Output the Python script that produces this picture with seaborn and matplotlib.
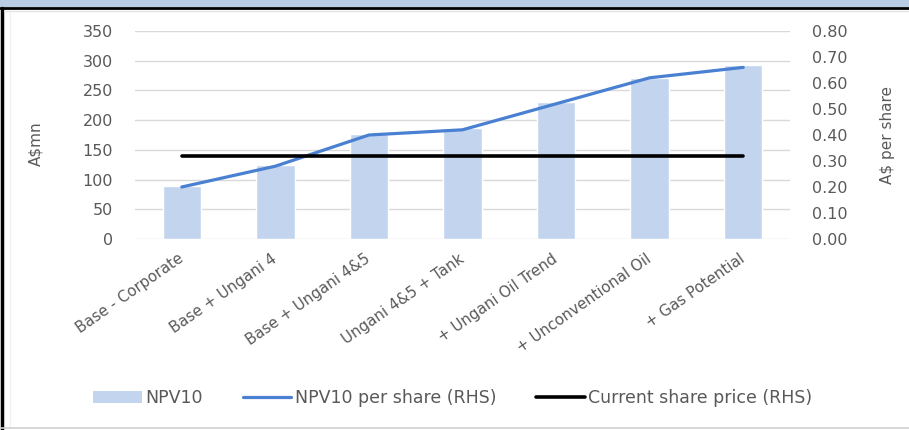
import matplotlib
matplotlib.use("Agg")
import matplotlib.pyplot as plt
from matplotlib.patches import Patch, Rectangle
from matplotlib.lines import Line2D
import numpy as np
import pandas as pd
import seaborn as sns

categories = ["Base - Corporate", "Base + Ungani 4", "Base + Ungani 4&5",
              "Ungani 4&5 + Tank", "+ Ungani Oil Trend",
              "+ Unconventional Oil", "+ Gas Potential"]
npv10 = [90, 125, 177, 187, 231, 271, 293]
npv10_per_share = [0.20, 0.28, 0.40, 0.42, 0.52, 0.62, 0.66]
share_price = [0.32] * len(categories)
left_ticks = [0, 50, 100, 150, 200, 250, 300, 350]
right_ticks = [0.0, 0.1, 0.2, 0.3, 0.4, 0.5, 0.6, 0.7, 0.8]

sns.set_theme(style="white")
plt.rcParams["font.family"] = ["DejaVu Sans"]

BAR = "#c3d5ee"
LINE = "#4a80d2"
GREY = "#595959"
FS = 11.5

df = pd.DataFrame({"cat": categories, "npv": npv10,
                   "pos": np.arange(len(categories)),
                   "ps": npv10_per_share, "price": share_price})

fig = plt.figure(figsize=(9.09, 4.30), dpi=100)
W, H = 909, 430

# frame decorations: blue header band, black rules, faint inner lines
fig.patches.append(Rectangle((0, 1 - 7 / H), 1, 7 / H, transform=fig.transFigure,
                             facecolor="#b8cce4", edgecolor="none", zorder=0))
fig.add_artist(Line2D([0, 1], [1 - 8 / H, 1 - 8 / H], transform=fig.transFigure,
                      color="black", lw=2.0))
fig.add_artist(Line2D([1.5 / W, 1.5 / W], [0, 1 - 8 / H], transform=fig.transFigure,
                      color="black", lw=2.5))
fig.add_artist(Line2D([4 / W, 1], [1 - 11 / H, 1 - 11 / H], transform=fig.transFigure,
                      color="#e4e4e4", lw=1.0))
fig.add_artist(Line2D([10 / W, 10 / W], [3 / H, 1 - 11 / H], transform=fig.transFigure,
                      color="#f0f0f0", lw=1.0))
fig.add_artist(Line2D([0, 1], [2.5 / H, 2.5 / H], transform=fig.transFigure,
                      color="#d0d0d0", lw=1.2))

ax = fig.add_axes([135 / W, 1 - 239 / H, 655 / W, 208 / H])
sns.barplot(data=df, x="pos", y="npv", color=BAR, width=0.41, saturation=1,
            ax=ax, zorder=2)
ax.set_ylim(0, 350)
ax.set_xlim(-0.5, len(categories) - 0.5)
ax.set_yticks(left_ticks)
ax.set_yticklabels([str(v) for v in left_ticks], fontsize=FS, color=GREY)
ax.set_xticks(df["pos"])
ax.set_xticklabels(categories, rotation=35, ha="right", va="center",
                   rotation_mode="anchor", fontsize=10.8, color=GREY)
ax.tick_params(axis="x", length=0, pad=13)
ax.tick_params(axis="y", length=0, pad=16)
ax.grid(axis="y", color="#d9d9d9", lw=1)
ax.set_axisbelow(True)
for s in ax.spines.values():
    s.set_visible(False)
ax.set_xlabel("")
ax.set_ylabel("A$mn", fontsize=11, color=GREY)
ax.yaxis.set_label_coords(-0.14, 0.46)

ax2 = ax.twinx()
sns.lineplot(data=df, x="pos", y="ps", color=LINE, lw=2.3, ax=ax2, zorder=3)
sns.lineplot(data=df, x="pos", y="price", color="black", lw=2.6, ax=ax2, zorder=4)
ax2.set_ylim(0, 0.8)
ax2.set_yticks(right_ticks)
ax2.set_yticklabels([f"{v:.2f}" for v in right_ticks], fontsize=FS, color=GREY)
ax2.yaxis.set_tick_params(which="major", length=0, pad=16,
                          labelright=True, labelleft=False)
for s in ax2.spines.values():
    s.set_visible(False)
ax2.set_xlabel("")
ax2.set_ylabel("A$ per share", fontsize=11, color=GREY)
ax2.yaxis.set_label_coords(1.137, 0.5)
ax2.grid(False)

handles = [Patch(facecolor=BAR, edgecolor="none"),
           Line2D([], [], color=LINE, lw=2.3),
           Line2D([], [], color="black", lw=2.6)]
labels = ["NPV10", "NPV10 per share (RHS)", "Current share price (RHS)"]
fig.legend(handles, labels, loc="center left", bbox_to_anchor=(93 / W, 1 - 398 / H),
           ncol=3, frameon=False, fontsize=12.5, handlelength=2.8, handletextpad=0.2,
           columnspacing=2.3, labelcolor=GREY, borderpad=0, borderaxespad=0)

fig.savefig("out.png", dpi=100)
